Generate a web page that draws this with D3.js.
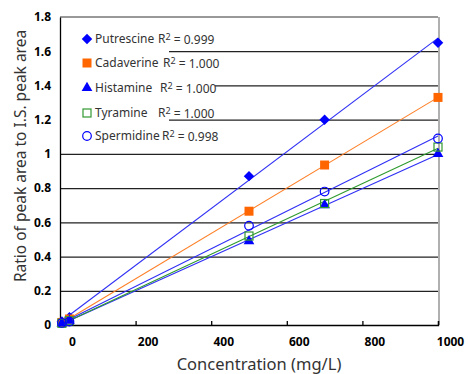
<!DOCTYPE html>
<meta charset="utf-8">
<style>
    body{ margin:0; background:#fff; }
    text{ font-family: "Noto Sans", "DejaVu Sans", sans-serif; }
</style>
<script src="https://d3js.org/d3.v7.min.js"></script>
<div id="chart"></div>
<script>
var conc = [5, 25, 500, 700, 1000];
var putrescine = [0.02, 0.045, 0.87, 1.20, 1.65];
var cadaverine = [0.015, 0.035, 0.665, 0.935, 1.33];
var histamine  = [0.01, 0.025, 0.49, 0.70, 1.00];
var tyramine   = [0.01, 0.025, 0.52, 0.71, 1.04];
var spermidine = [0.012, 0.02, 0.58, 0.78, 1.09];

var names = ["Putrescine", "Cadaverine", "Histamine", "Tyramine", "Spermidine"];
var r2 = ["0.999", "1.000", "1.000", "1.000", "0.998"];
var xTicks = [0, 200, 400, 600, 800, 1000];
var yTicks = [0, 0.2, 0.4, 0.6, 0.8, 1, 1.2, 1.4, 1.6, 1.8];

var series = [putrescine, cadaverine, histamine, tyramine, spermidine];
var colors = ["#0000ff", "#ff6600", "#0000ff", "#339933", "#0000ff"];
var lineColors = ["#2f2ff5", "#ff7f27", "#2f2ff5", "#2e9a2e", "#2f2ff5"];

var W = 468, H = 374;
var pLeft = 60, pRight = 438, pTop = 17, pBottom = 325;

var svg = d3.select("#chart").append("svg")
    .attr("width", W).attr("height", H);

var x = d3.scaleLinear().domain([0, 1000]).range([pLeft, pRight]);
var y = d3.scaleLinear().domain([0, 1.8]).range([pBottom, pTop]);

// horizontal gridlines
svg.append("g")
    .attr("transform", `translate(${pLeft},0)`)
    .call(d3.axisLeft(y).tickValues(yTicks.slice(1, -1)).tickSize(-(pRight - pLeft)).tickFormat(""))
    .call(g => g.select(".domain").remove())
    .selectAll("line").attr("stroke", "#222").attr("stroke-width", 1.3);

// top and right border
svg.append("line").attr("x1", pLeft).attr("x2", pRight).attr("y1", y(1.8)).attr("y2", y(1.8))
    .attr("stroke", "#777").attr("stroke-width", 1.5);
svg.append("line").attr("x1", pRight + 1).attr("x2", pRight + 1).attr("y1", pTop).attr("y2", pBottom)
    .attr("stroke", "#b0b0b0").attr("stroke-width", 2);

// legend background (hides gridlines behind the text)
svg.append("rect").attr("x", pLeft + 1).attr("y", 22).attr("width", 108).attr("height", 126).attr("fill", "#fff");
svg.append("rect").attr("x", pLeft + 1).attr("y", 78).attr("width", 154).attr("height", 18).attr("fill", "#fff");

// y axis
var yAxis = svg.append("g")
    .attr("transform", `translate(${pLeft},0)`)
    .call(d3.axisLeft(y).tickValues(yTicks).tickSize(0).tickPadding(9).tickFormat(d3.format("~g")));
yAxis.select(".domain").attr("stroke", "#000").attr("stroke-width", 1.3);
yAxis.selectAll("text").style("font-size", "12px").style("font-weight", "bold").attr("fill", "#000");

// x axis, ticks pointing inward, labels shifted as in the figure
var xAxis = svg.append("g")
    .attr("transform", `translate(0,${pBottom})`)
    .call(d3.axisBottom(x).tickValues(xTicks).tickSize(-4).tickPadding(12).tickFormat(d3.format("d")));
xAxis.select(".domain").attr("stroke", "#000").attr("stroke-width", 1.3);
xAxis.selectAll("line").attr("stroke", "#000").attr("stroke-width", 1.3);
xAxis.selectAll("text").attr("dx", 12).style("font-size", "12px").style("font-weight", "bold").attr("fill", "#000");

// trendlines (least squares fit of each series)
series.forEach(function(vals, i) {
    var mx = d3.mean(conc), my = d3.mean(vals);
    var sxy = d3.sum(conc, (c, k) => (c - mx) * (vals[k] - my));
    var sxx = d3.sum(conc, c => (c - mx) * (c - mx));
    var b = sxy / sxx, a = my - b * mx;
    var x0 = d3.min(conc), x1 = d3.max(conc);
    svg.append("line")
        .attr("x1", x(x0)).attr("y1", y(a + b * x0))
        .attr("x2", x(x1)).attr("y2", y(a + b * x1))
        .attr("stroke", lineColors[i]).attr("stroke-width", 1.1);
});

// markers
function marker(g, i, cx, cy) {
    var c = colors[i];
    if (i == 0) g.append("path").attr("d", d3.symbol(d3.symbolDiamond2, 70)()).attr("transform", `translate(${cx},${cy})`).attr("fill", c);
    if (i == 1) g.append("rect").attr("x", cx - 4.5).attr("y", cy - 4.5).attr("width", 9).attr("height", 9).attr("fill", c);
    if (i == 2) g.append("path").attr("d", d3.symbol(d3.symbolTriangle, 50)()).attr("transform", `translate(${cx},${cy})`).attr("fill", c);
    if (i == 3) g.append("rect").attr("x", cx - 4).attr("y", cy - 4).attr("width", 8).attr("height", 8).attr("fill", "none").attr("stroke", c).attr("stroke-width", 1.2);
    if (i == 4) g.append("circle").attr("cx", cx).attr("cy", cy).attr("r", 4.3).attr("fill", "none").attr("stroke", c).attr("stroke-width", 1.2);
}
var marks = svg.append("g");
series.forEach(function(vals, i) {
    vals.forEach(function(v, k) { marker(marks, i, x(conc[k]), y(v)); });
});

// legend
var legY = [39, 63, 88, 113, 136];
var r2X = [158, 163, 160, 158, 162];
names.forEach(function(n, i) {
    marker(svg, i, 87, legY[i]);
    svg.append("text").attr("x", 95).attr("y", legY[i]).attr("dy", "0.35em")
        .style("font-size", "12px").attr("fill", "#333").text(n);
    var t = svg.append("text").attr("x", r2X[i]).attr("y", legY[i]).attr("dy", "0.35em")
        .style("font-size", "12px").attr("fill", "#333");
    t.append("tspan").text("R");
    t.append("tspan").attr("dy", "-0.4em").style("font-size", "9px").text("2");
    t.append("tspan").attr("dy", "0.4em").text(" = " + r2[i]);
});

// axis titles
svg.append("text").attr("x", 259).attr("y", 370).attr("text-anchor", "middle")
    .style("font-size", "16.5px").attr("fill", "#333").text("Concentration (mg/L)");
svg.append("text").attr("transform", "translate(26,156) rotate(-90)").attr("text-anchor", "middle")
    .style("font-size", "15.5px").attr("fill", "#333").text("Ratio of peak area to I.S. peak area");
</script>
